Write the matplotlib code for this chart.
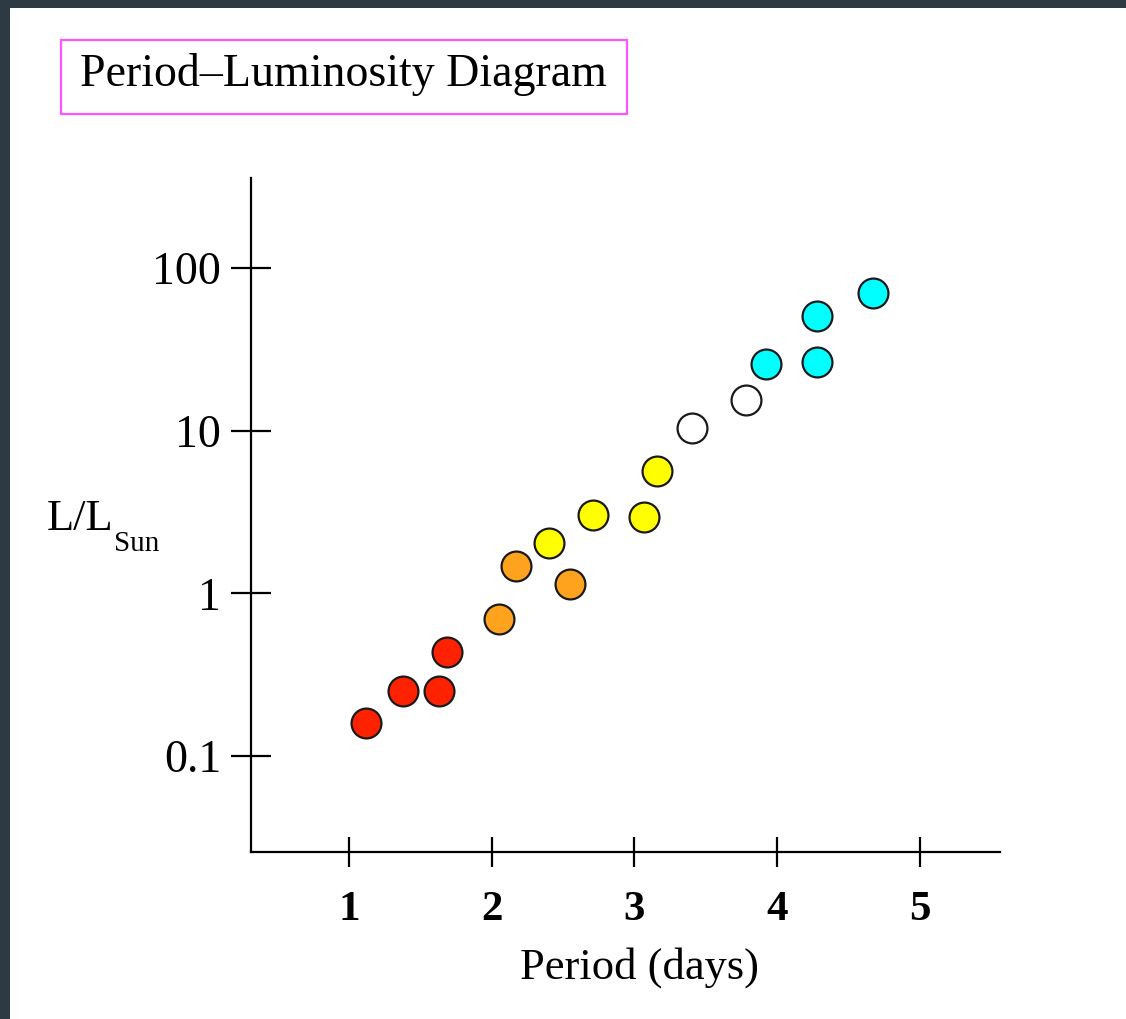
"""Period-luminosity diagram for Cepheid-like variable stars."""
import numpy as np
import matplotlib
matplotlib.use('Agg')
import matplotlib.pyplot as plt
from matplotlib.patches import Rectangle

# star groups
red_period = [1.12, 1.38, 1.63, 1.69]
red_lum = [0.16, 0.25, 0.25, 0.44]
orange_period = [2.05, 2.17, 2.55]
orange_lum = [0.70, 1.48, 1.15]
yellow_period = [2.40, 2.71, 3.07, 3.16]
yellow_lum = [2.05, 3.05, 2.95, 5.65]
white_period = [3.40, 3.78]
white_lum = [10.4, 15.4]
cyan_period = [3.92, 4.28, 4.28, 4.67]
cyan_lum = [25.7, 26.5, 50.9, 70.5]

x_ticks = [1, 2, 3, 4, 5]
y_ticks = [0.1, 1, 10, 100]
y_ticklabels = ['0.1', '1', '10', '100']

groups = [(red_period, red_lum, '#ff2200'),
          (orange_period, orange_lum, '#ffa31f'),
          (yellow_period, yellow_lum, '#ffff00'),
          (white_period, white_lum, '#ffffff'),
          (cyan_period, cyan_lum, '#00ffff')]

plt.rcParams['font.family'] = ['Liberation Serif', 'DejaVu Serif']

W, H = 1126, 1019
fig = plt.figure(figsize=(W / 100, H / 100), dpi=100, facecolor='#2e3a43')
# white page inside the dark frame (left and top edges only)
fig.patches.append(Rectangle((10 / W, 0), 1 - 10 / W, 1 - 8 / H,
                             transform=fig.transFigure, facecolor='white',
                             edgecolor='none', zorder=-5))

ax = fig.add_axes([251 / W, 167 / H, 749 / W, 674 / H])
ax.set_facecolor('none')
ax.set_zorder(3)

for period, lum, color in groups:
    ax.plot(period, lum, 'o', ms=21.5, mfc=color, mec='#1a1a1a', mew=1.6,
            clip_on=False)

ax.set_yscale('log')
ax.set_xlim(0.315, 5.56)
ax.set_ylim(0.0258, 357)

for side in ['top', 'right']:
    ax.spines[side].set_visible(False)
for side in ['left', 'bottom']:
    ax.spines[side].set_linewidth(1.6)

ax.set_xticks(x_ticks)
ax.set_xticklabels([str(t) for t in x_ticks], fontweight='bold')
ax.yaxis.set_major_locator(matplotlib.ticker.FixedLocator(y_ticks))
ax.yaxis.set_minor_locator(matplotlib.ticker.NullLocator())
ax.set_yticklabels(y_ticklabels)
ax.tick_params(axis='x', direction='inout', length=22, width=1.6,
               labelsize=31, pad=17)
ax.tick_params(axis='y', direction='inout', length=29, width=1.6,
               labelsize=33, pad=7)

fig.text(640 / W, 1 - 968 / H, 'Period (days)', fontsize=32,
         ha='center', va='center')
fig.text(47 / W, 1 - 530 / H, 'L/L', fontsize=32, ha='left',
         va='baseline')
fig.text(114 / W, 1 - 551 / H, 'Sun', fontsize=21, ha='left',
         va='baseline')

# title box
fig.patches.append(Rectangle((61 / W, 1 - 114 / H), 566 / W, 74 / H,
                             transform=fig.transFigure, facecolor='none',
                             edgecolor='#ff55ff', linewidth=1.6, zorder=2))
fig.text(80 / W, 1 - 74 / H, 'Period\u2013Luminosity Diagram', fontsize=33,
         ha='left', va='center')

fig.savefig('out.png', dpi=100, facecolor=fig.get_facecolor())
